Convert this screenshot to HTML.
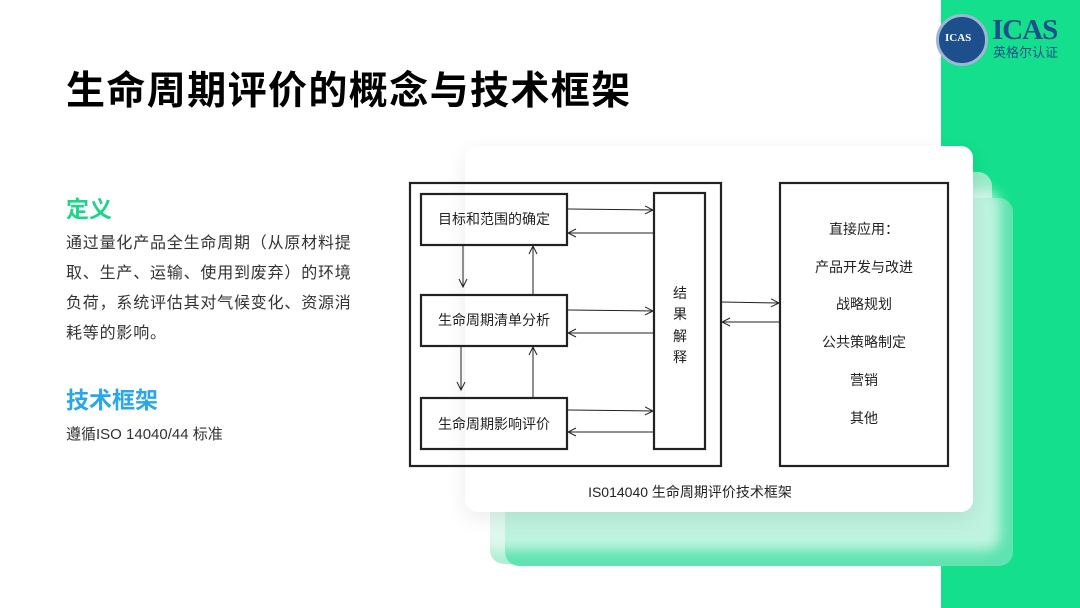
<!DOCTYPE html>
<html><head><meta charset="utf-8"><style>
*{margin:0;padding:0;box-sizing:border-box}
body{width:1080px;height:608px;overflow:hidden;background:#fff;position:relative;font-family:"Liberation Sans","Noto Sans CJK SC",sans-serif}
.abs{position:absolute}
.t{white-space:nowrap}
</style></head><body>
<div class="abs" style="left:941px;top:0;width:139px;height:608px;background:#13df8c"></div>
<div class="abs" style="left:490px;top:172px;width:502px;height:392px;background:#a8ecd0;border-radius:14px;opacity:.9"></div>
<div class="abs" style="left:505px;top:198px;width:508px;height:368px;background:#5fe3b0;border-radius:14px"></div>
<div class="abs" style="left:480px;top:190px;width:520px;height:360px;background:#fff;opacity:.6;border-radius:14px;filter:blur(6px)"></div>
<div class="abs" style="left:465px;top:146px;width:508px;height:366px;background:#fff;border-radius:12px;box-shadow:0 6px 20px rgba(0,0,0,.08)"></div>

<!-- logo -->
<div class="abs" style="left:936px;top:14px;width:52px;height:52px;border-radius:50%;background:#1d4f8c;border:3px solid #9fb6d4"></div>
<div class="abs t" style="left:945px;top:32px;font:bold 11px 'Liberation Serif',serif;color:#fff">ICAS</div>
<div class="abs t" style="left:992px;top:14px;font:bold 29px 'Liberation Serif',serif;color:#1d4f8c;letter-spacing:-1px">ICAS</div>
<div class="abs t" style="left:993px;top:42px;font-size:13px;color:#1d4f8c">英格尔认证</div>

<div class="abs t" style="left:66px;top:60px;font-size:39px;font-weight:bold;color:#000;letter-spacing:1.4px">生命周期评价的概念与技术框架</div>
<div class="abs t" style="left:66px;top:190px;font-size:23px;font-weight:bold;color:#1ed48a">定义</div>
<div class="abs" style="left:66px;top:229px;width:300px;font-size:16px;line-height:30px;color:#333;letter-spacing:0.8px">通过量化产品全生命周期（从原材料提取、生产、运输、使用到废弃）的环境负荷，系统评估其对气候变化、资源消耗等的影响。</div>
<div class="abs t" style="left:66px;top:381px;font-size:23px;font-weight:bold;color:#2aa7e8">技术框架</div>
<div class="abs t" style="left:66px;top:423px;font-size:15px;color:#333">遵循ISO 14040/44 标准</div>

<svg class="abs" style="left:0;top:0" width="1080" height="608">
<defs><marker id="a" markerWidth="10" markerHeight="10" refX="9" refY="5" orient="auto" markerUnits="userSpaceOnUse"><path d="M1,1 L9,5 L1,9" fill="none" stroke="#222" stroke-width="1"/></marker></defs>
<g fill="none" stroke="#222" stroke-width="2.2">
<rect x="410" y="183" width="311" height="283"/>
<rect x="421" y="194" width="146" height="51"/>
<rect x="421" y="295" width="146" height="51"/>
<rect x="421" y="398" width="146" height="51"/>
<rect x="654" y="193" width="51" height="256"/>
<rect x="780" y="183" width="168" height="283"/>
</g>
<g stroke="#222" stroke-width="1" marker-end="url(#a)">
<line x1="568" y1="209" x2="653" y2="210"/>
<line x1="653" y1="233" x2="568" y2="233"/>
<line x1="568" y1="310" x2="653" y2="311"/>
<line x1="653" y1="333" x2="568" y2="333"/>
<line x1="568" y1="410" x2="653" y2="411"/>
<line x1="653" y1="432" x2="568" y2="432"/>
<line x1="463" y1="246" x2="463" y2="287"/>
<line x1="533" y1="294" x2="533" y2="246"/>
<line x1="461" y1="347" x2="461" y2="390"/>
<line x1="533" y1="397" x2="533" y2="347"/>
<line x1="722" y1="302" x2="779" y2="303"/>
<line x1="779" y1="322" x2="722" y2="322"/>
</g>
<g font-size="14" fill="#222" text-anchor="middle" font-family="Liberation Sans,Noto Sans CJK SC,sans-serif">
<text x="494" y="224">目标和范围的确定</text>
<text x="494" y="325">生命周期清单分析</text>
<text x="494" y="429">生命周期影响评价</text>
<text x="680" y="298">结</text><text x="680" y="319">果</text><text x="680" y="341">解</text><text x="680" y="362">释</text>
<text x="864" y="234">直接应用：</text>
<text x="864" y="272">产品开发与改进</text>
<text x="864" y="309">战略规划</text>
<text x="864" y="347">公共策略制定</text>
<text x="864" y="385">营销</text>
<text x="864" y="423">其他</text>
<text x="690" y="497">IS014040 生命周期评价技术框架</text>
</g>
</svg>
</body></html>
